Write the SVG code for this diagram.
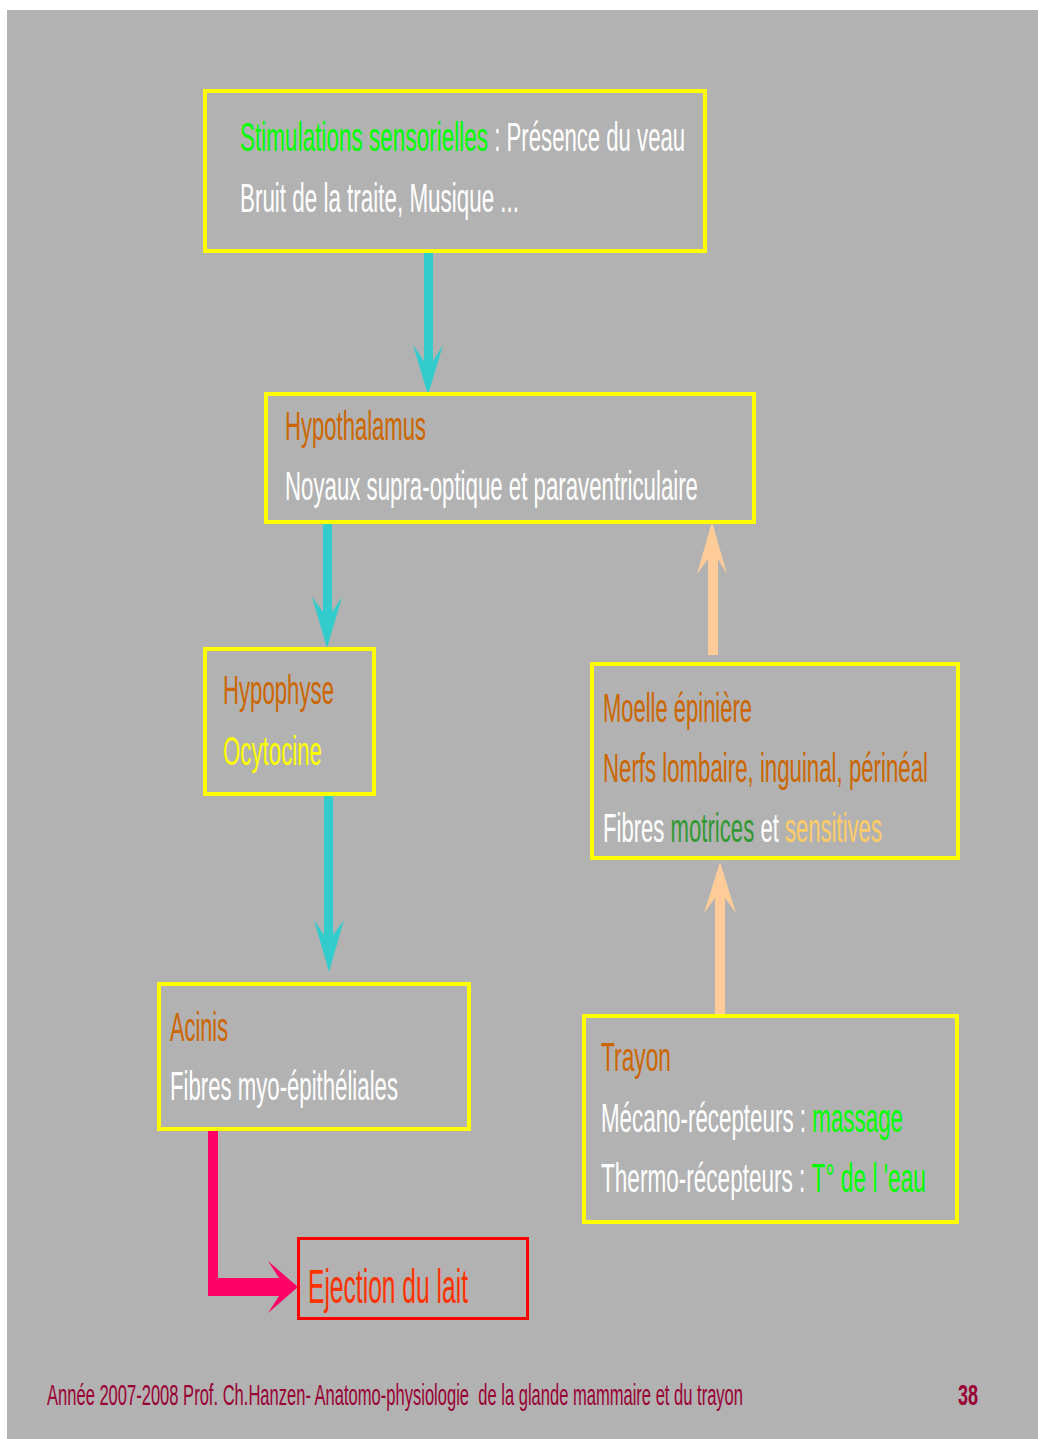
<svg xmlns="http://www.w3.org/2000/svg" width="1038" height="1439" viewBox="0 0 1038 1439">
<style>
.box{fill:none;stroke:#ffff00;stroke-width:4}
text{font-family:"Liberation Sans",Arial,sans-serif;font-size:41px}
.br{fill:#cc6600}
.wh{fill:#ffffff}
.gr{fill:#00ff00}
.dg{fill:#339933}
.ye{fill:#ffff00}
.pe{fill:#ffcc66}
.cy{fill:#33cccc}
.pc{fill:#ffcc99}
.pk{fill:#ff0066}
.ej{fill:#ff3300;font-size:49px}
.ft{fill:#990033;font-size:30px}
</style>
<rect x="0" y="0" width="1038" height="1439" fill="#ffffff"/>
<rect x="7" y="10" width="1031" height="1429" fill="#b2b2b2"/>

<g id="connectors">
<path class="cy" d="M424,252 H433 V361 L443,345 L428,395 L413,345 L424,361 Z"/>
<path class="cy" d="M323,523 H332 V612 L342,597 L327,648 L312,597 L323,612 Z"/>
<path class="cy" d="M324,795 H333 V935 L344,920 L329,972 L314,920 L324,935 Z"/>
<path class="pc" d="M708,655 V559 L697,574 L712,522 L727,574 L718,559 V655 Z"/>
<path class="pc" d="M715,1015 V898 L704,913 L720,862 L736,913 L725,898 V1015 Z"/>
<path class="pk" d="M208,1128 H218 V1278 H279 L268,1261 L298,1287 L268,1313 L279,1296 H208 Z"/>
</g>

<g id="stimulations">
<rect class="box" x="205" y="91" width="500" height="160"/>
<text class="gr" transform="translate(240,151) scale(0.55,1)" textLength="451.1" lengthAdjust="spacingAndGlyphs">Stimulations sensorielles</text>
<text class="wh" transform="translate(494.3,151) scale(0.55,1)" textLength="346.9" lengthAdjust="spacingAndGlyphs">: Présence du veau</text>
<text class="wh" transform="translate(240,212) scale(0.55,1)" textLength="507.3" lengthAdjust="spacingAndGlyphs">Bruit de la traite, Musique ...</text>
</g>

<g id="hypothalamus">
<rect class="box" x="266" y="394" width="488" height="128"/>
<text class="br" transform="translate(285,440) scale(0.55,1)" textLength="256.4" lengthAdjust="spacingAndGlyphs">Hypothalamus</text>
<text class="wh" transform="translate(285,500) scale(0.55,1)" textLength="750.9" lengthAdjust="spacingAndGlyphs">Noyaux supra-optique et paraventriculaire</text>
</g>

<g id="hypophyse">
<rect class="box" x="205" y="649" width="169" height="145"/>
<text class="br" transform="translate(223,704) scale(0.55,1)" textLength="201.8" lengthAdjust="spacingAndGlyphs">Hypophyse</text>
<text class="ye" transform="translate(223,765) scale(0.55,1)" textLength="180" lengthAdjust="spacingAndGlyphs">Ocytocine</text>
</g>

<g id="moelle">
<rect class="box" x="592" y="664" width="366" height="194"/>
<text class="br" transform="translate(603,722) scale(0.55,1)" textLength="270.9" lengthAdjust="spacingAndGlyphs">Moelle épinière</text>
<text class="br" transform="translate(603,782) scale(0.55,1)" textLength="590.9" lengthAdjust="spacingAndGlyphs">Nerfs lombaire, inguinal, périnéal</text>
<text class="wh" transform="translate(603,842) scale(0.55,1)" textLength="111.6" lengthAdjust="spacingAndGlyphs">Fibres</text>
<text class="dg" transform="translate(670.6,842) scale(0.55,1)" textLength="152" lengthAdjust="spacingAndGlyphs">motrices</text>
<text class="wh" transform="translate(760.4,842) scale(0.55,1)" textLength="33.5" lengthAdjust="spacingAndGlyphs">et</text>
<text class="pe" transform="translate(784.9,842) scale(0.55,1)" textLength="176.5" lengthAdjust="spacingAndGlyphs">sensitives</text>
</g>

<g id="acinis">
<rect class="box" x="159" y="984" width="310" height="145"/>
<text class="br" transform="translate(170,1041) scale(0.55,1)" textLength="105.5" lengthAdjust="spacingAndGlyphs">Acinis</text>
<text class="wh" transform="translate(170,1100) scale(0.55,1)" textLength="414.5" lengthAdjust="spacingAndGlyphs">Fibres myo-épithéliales</text>
</g>

<g id="trayon">
<rect class="box" x="584" y="1016" width="373" height="206"/>
<text class="br" transform="translate(601,1071) scale(0.55,1)" textLength="127.3" lengthAdjust="spacingAndGlyphs">Trayon</text>
<text class="wh" transform="translate(601,1132) scale(0.55,1)" textLength="372.7" lengthAdjust="spacingAndGlyphs">Mécano-récepteurs :</text>
<text class="gr" transform="translate(812.3,1132) scale(0.55,1)" textLength="164.9" lengthAdjust="spacingAndGlyphs">massage</text>
<text class="wh" transform="translate(601,1192) scale(0.55,1)" textLength="371.6" lengthAdjust="spacingAndGlyphs">Thermo-récepteurs :</text>
<text class="gr" transform="translate(811.6,1192) scale(0.55,1)" textLength="208" lengthAdjust="spacingAndGlyphs">T° de l 'eau</text>
</g>

<g id="ejection">
<rect x="298.5" y="1238.5" width="229" height="80" fill="none" stroke="#ff0000" stroke-width="3"/>
<text class="ej" transform="translate(308,1303) scale(0.55,1)" textLength="290.9" lengthAdjust="spacingAndGlyphs">Ejection du lait</text>
</g>

<g id="footer">
<text class="ft" transform="translate(47,1405) scale(0.55,1)" textLength="1265.5" lengthAdjust="spacingAndGlyphs">Année 2007-2008 Prof. Ch.Hanzen- Anatomo-physiologie&#160; de la glande mammaire et du trayon</text>
<text class="ft" transform="translate(958,1405) scale(0.55,1)" font-weight="bold" textLength="36.4" lengthAdjust="spacingAndGlyphs">38</text>
</g>
</svg>
